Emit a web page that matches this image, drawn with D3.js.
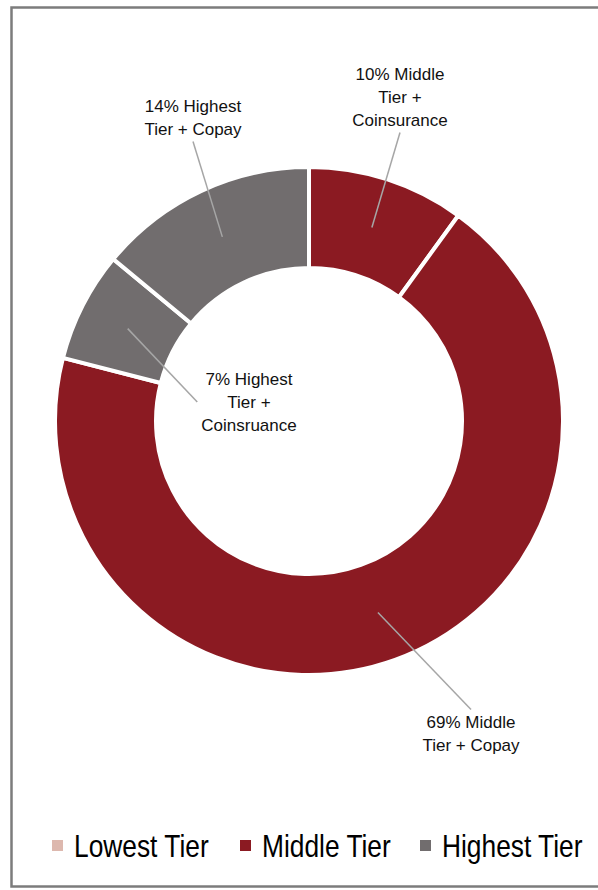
<!DOCTYPE html>
<html>
<head>
<meta charset="utf-8">
<script src="https://cdn.jsdelivr.net/npm/d3@7/dist/d3.min.js"></script>
<style>
  html, body { margin: 0; padding: 0; background: #fff; }
  svg { display: block; }
</style>
</head>
<body>
<svg id="chart" width="598" height="890"></svg>
<script>
// Plan shares by tier and cost-sharing type (percent)
const sliceNames = ["Middle Tier + Coinsurance", "Middle Tier + Copay", "Highest Tier + Coinsurance", "Highest Tier + Copay"];
const sliceTiers = ["Middle Tier", "Middle Tier", "Highest Tier", "Highest Tier"];
const sliceValues = [10, 69, 7, 14];
// Label wording, split over lines as printed (value is prefixed to the first line)
const labelLines = [
  ["Middle", "Tier +", "Coinsurance"],
  ["Middle", "Tier + Copay"],
  ["Highest", "Tier +", "Coinsruance"],
  ["Highest", "Tier + Copay"]
];
// Legend entries
const tiers = ["Lowest Tier", "Middle Tier", "Highest Tier"];
const tierColors = ["#DDB8AE", "#8B1A22", "#716D6E"];

// Label placement: text centre x, first-line centre y, and which edge the leader leaves from
const labelLayout = [
  { x: 400, y: 74, side: "bottom" },
  { x: 471, y: 722, side: "top" },
  { x: 249, y: 379, side: "left" },
  { x: 193, y: 106, side: "bottom" }
];

const W = 598, H = 890;
const cx = 309, cy = 421;
const outerR = 254, innerR = 153, midR = 203.5;
const lineH = 23;

const svg = d3.select("#chart");

// Frame
svg.append("rect")
  .attr("x", 11.5).attr("y", 7.5)
  .attr("width", W + 20).attr("height", 879)
  .attr("fill", "none")
  .attr("stroke", "#7c7c7c")
  .attr("stroke-width", 2.5);

const color = d3.scaleOrdinal().domain(tiers).range(tierColors);

const data = sliceNames.map((name, i) => ({ name, tier: sliceTiers[i], value: sliceValues[i], lines: labelLines[i], layout: labelLayout[i] }));

const pie = d3.pie().sort(null).value(d => d.value);
const arcs = pie(data);

const arc = d3.arc().innerRadius(innerR).outerRadius(outerR);
const midArc = d3.arc().innerRadius(midR).outerRadius(midR);

const g = svg.append("g").attr("transform", `translate(${cx},${cy})`);

g.selectAll("path.slice")
  .data(arcs)
  .join("path")
  .attr("class", "slice")
  .attr("d", arc)
  .attr("fill", d => color(d.data.tier))
  .attr("stroke", "#fff")
  .attr("stroke-width", 4);

// Data labels
const labels = svg.append("g")
  .attr("font-family", "'Liberation Sans', Arial, sans-serif")
  .attr("font-size", 17)
  .attr("fill", "#111");

arcs.forEach(d => {
  const L = d.data.layout;
  const lines = d.data.lines.map((t, i) => i === 0 ? `${d.data.value}% ${t}` : t);
  const t = labels.append("text")
    .attr("text-anchor", "middle")
    .attr("dominant-baseline", "central");
  lines.forEach((s, i) => {
    t.append("tspan").attr("x", L.x).attr("y", L.y + i * lineH).text(s);
  });
  const bb = t.node().getBBox();
  let sx, sy;
  if (L.side === "bottom") { sx = L.x; sy = bb.y + bb.height + 3; }
  else if (L.side === "top") { sx = L.x; sy = bb.y - 3; }
  else { sx = bb.x - 4; sy = L.y + lineH; }
  const [ex, ey] = midArc.centroid(d);
  svg.append("line")
    .attr("x1", sx).attr("y1", sy)
    .attr("x2", cx + ex).attr("y2", cy + ey)
    .attr("stroke", "#A6A6A6")
    .attr("stroke-width", 1.5);
});

// Legend (condensed type)
const legendX = [52, 240, 420];
const legend = svg.append("g")
  .attr("font-family", "'Liberation Sans', Arial, sans-serif")
  .attr("font-size", 31)
  .attr("fill", "#000");

tiers.forEach((name, i) => {
  legend.append("rect")
    .attr("x", legendX[i]).attr("y", 840)
    .attr("width", 11).attr("height", 11)
    .attr("fill", color(name));
  legend.append("g")
    .attr("transform", `translate(${legendX[i] + 22},857) scale(0.85,1)`)
    .append("text")
    .attr("x", 0).attr("y", 0)
    .text(name);
});
</script>
</body>
</html>
